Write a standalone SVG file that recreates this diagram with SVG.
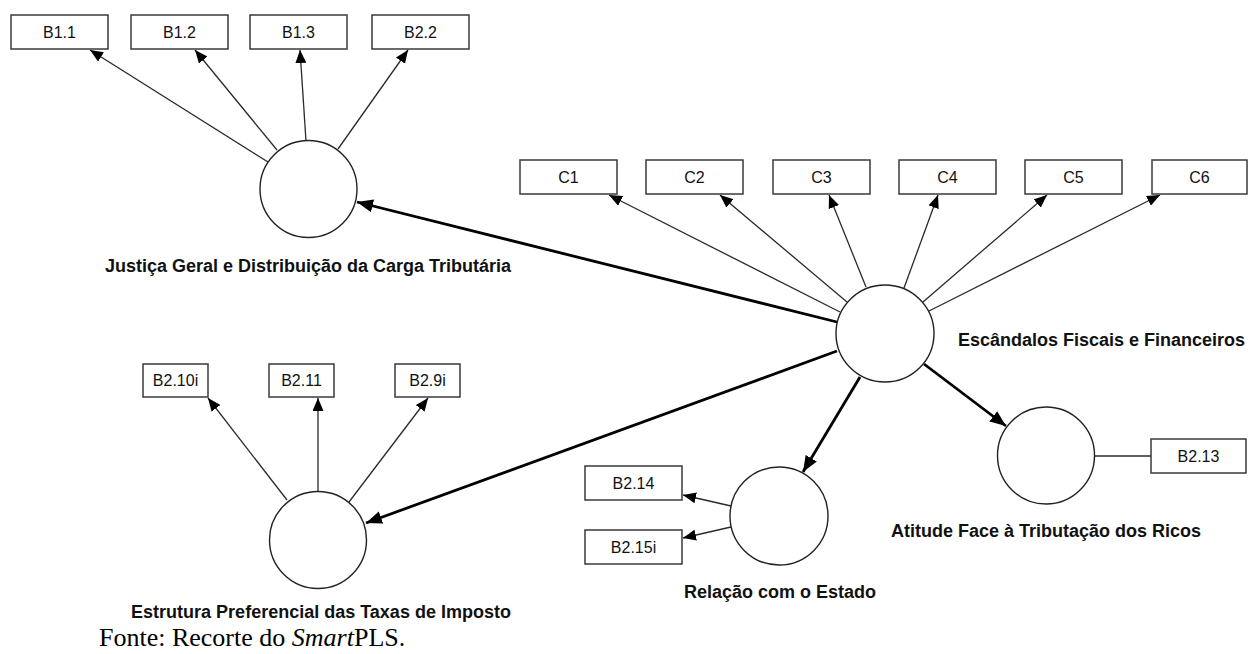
<svg xmlns="http://www.w3.org/2000/svg" width="1248" height="654" viewBox="0 0 1248 654">
<defs>
<style>
.box{fill:#fff;stroke:#3a3a3a;stroke-width:1.5}
.lv{fill:#fff;stroke:#222;stroke-width:1.4}
.bt{font-family:"Liberation Sans",Arial,sans-serif;font-size:16px;fill:#111;text-anchor:middle}
.nl{font-family:"Liberation Sans",Arial,sans-serif;font-size:18px;font-weight:bold;fill:#111}
.thin{stroke:#2a2a2a;stroke-width:1.3;fill:none}
.thick{stroke:#000;stroke-width:2.8;fill:none}
.cap{font-family:"Liberation Serif","Times New Roman",serif;font-size:26px;fill:#000}
</style>
<marker id="ah" markerUnits="userSpaceOnUse" viewBox="0 0 13 11" refX="13" refY="5.5" markerWidth="13" markerHeight="11" orient="auto">
<path d="M0,0 L13,5.5 L0,11 z" fill="#000"/>
</marker>
<marker id="ahb" markerUnits="userSpaceOnUse" viewBox="0 0 16 13" refX="16" refY="6.5" markerWidth="16" markerHeight="13" orient="auto">
<path d="M0,0 L16,6.5 L0,13 z" fill="#000"/>
</marker>
</defs>
<rect width="1248" height="654" fill="#fff"/>

<g id="connectors">
<line class="thin" x1="268" y1="162" x2="90" y2="50" marker-end="url(#ah)"/>
<line class="thin" x1="277" y1="150" x2="195" y2="50" marker-end="url(#ah)"/>
<line class="thin" x1="306" y1="141" x2="300" y2="50" marker-end="url(#ah)"/>
<line class="thin" x1="338" y1="149" x2="408" y2="50" marker-end="url(#ah)"/>

<line class="thin" x1="840" y1="312" x2="609" y2="195" marker-end="url(#ah)"/>
<line class="thin" x1="847" y1="302" x2="720" y2="195" marker-end="url(#ah)"/>
<line class="thin" x1="866" y1="287" x2="829" y2="195" marker-end="url(#ah)"/>
<line class="thin" x1="904" y1="288" x2="938" y2="195" marker-end="url(#ah)"/>
<line class="thin" x1="923" y1="302" x2="1047" y2="195" marker-end="url(#ah)"/>
<line class="thin" x1="929" y1="311" x2="1160" y2="195" marker-end="url(#ah)"/>

<line class="thin" x1="287" y1="500" x2="208" y2="398" marker-end="url(#ah)"/>
<line class="thin" x1="318" y1="492" x2="318" y2="398" marker-end="url(#ah)"/>
<line class="thin" x1="349" y1="502" x2="428" y2="398" marker-end="url(#ah)"/>

<line class="thin" x1="731" y1="506" x2="683" y2="495" marker-end="url(#ah)"/>
<line class="thin" x1="731" y1="527" x2="683" y2="538" marker-end="url(#ah)"/>

<line class="thin" x1="1095" y1="456" x2="1151" y2="456"/>

<line class="thick" x1="837" y1="322" x2="357" y2="202" marker-end="url(#ahb)"/>
<line class="thick" x1="837" y1="351" x2="366" y2="523" marker-end="url(#ahb)"/>
<line class="thick" x1="860" y1="377" x2="803" y2="472" marker-end="url(#ahb)"/>
<line class="thick" x1="924" y1="364" x2="1006" y2="426" marker-end="url(#ahb)"/>
</g>

<g id="node-B1.1"><rect class="box" x="11" y="15" width="97" height="34"/><text class="bt" x="59.5" y="38">B1.1</text></g>
<g id="node-B1.2"><rect class="box" x="131" y="15" width="97" height="34"/><text class="bt" x="179.5" y="38">B1.2</text></g>
<g id="node-B1.3"><rect class="box" x="250" y="15" width="97" height="34"/><text class="bt" x="298.5" y="38">B1.3</text></g>
<g id="node-B2.2"><rect class="box" x="372" y="15" width="97" height="34"/><text class="bt" x="420.5" y="38">B2.2</text></g>

<g id="node-justica"><circle class="lv" cx="308.5" cy="189" r="48.5"/><text class="nl" x="308" y="272" text-anchor="middle">Justiça Geral e Distribuição da Carga Tributária</text></g>

<g id="node-C1"><rect class="box" x="520" y="160" width="97" height="34"/><text class="bt" x="568.5" y="183">C1</text></g>
<g id="node-C2"><rect class="box" x="646" y="160" width="97" height="34"/><text class="bt" x="694.5" y="183">C2</text></g>
<g id="node-C3"><rect class="box" x="773" y="160" width="97" height="34"/><text class="bt" x="821.5" y="183">C3</text></g>
<g id="node-C4"><rect class="box" x="899" y="160" width="97" height="34"/><text class="bt" x="947.5" y="183">C4</text></g>
<g id="node-C5"><rect class="box" x="1025" y="160" width="97" height="34"/><text class="bt" x="1073.5" y="183">C5</text></g>
<g id="node-C6"><rect class="box" x="1152" y="160" width="95" height="34"/><text class="bt" x="1199.5" y="183">C6</text></g>

<g id="node-escandalos"><ellipse class="lv" cx="885" cy="333.5" rx="49" ry="48.5"/><text class="nl" x="958" y="346">Escândalos Fiscais e Financeiros</text></g>

<g id="node-B2.10i"><rect class="box" x="143" y="364" width="65" height="33"/><text class="bt" x="175.5" y="386">B2.10i</text></g>
<g id="node-B2.11"><rect class="box" x="269" y="364" width="65" height="33"/><text class="bt" x="301.5" y="386">B2.11</text></g>
<g id="node-B2.9i"><rect class="box" x="395" y="364" width="65" height="33"/><text class="bt" x="427.5" y="386">B2.9i</text></g>

<g id="node-estrutura"><circle class="lv" cx="318" cy="540" r="48.5"/><text class="nl" x="321" y="618" text-anchor="middle">Estrutura Preferencial das Taxas de Imposto</text></g>

<g id="node-B2.14"><rect class="box" x="585" y="466" width="97" height="34"/><text class="bt" x="633.5" y="489">B2.14</text></g>
<g id="node-B2.15i"><rect class="box" x="585" y="530" width="97" height="34"/><text class="bt" x="633.5" y="553">B2.15i</text></g>

<g id="node-relacao"><ellipse class="lv" cx="779" cy="516" rx="49" ry="49"/><text class="nl" x="780" y="598" text-anchor="middle">Relação com o Estado</text></g>

<g id="node-atitude"><circle class="lv" cx="1046" cy="455.5" r="48.5"/><text class="nl" x="1046" y="537" text-anchor="middle">Atitude Face à Tributação dos Ricos</text></g>

<g id="node-B2.13"><rect class="box" x="1151" y="439" width="95" height="34"/><text class="bt" x="1198.5" y="462">B2.13</text></g>

<text class="cap" x="99" y="646">Fonte: Recorte do <tspan font-style="italic">Smart</tspan>PLS.</text>
</svg>
